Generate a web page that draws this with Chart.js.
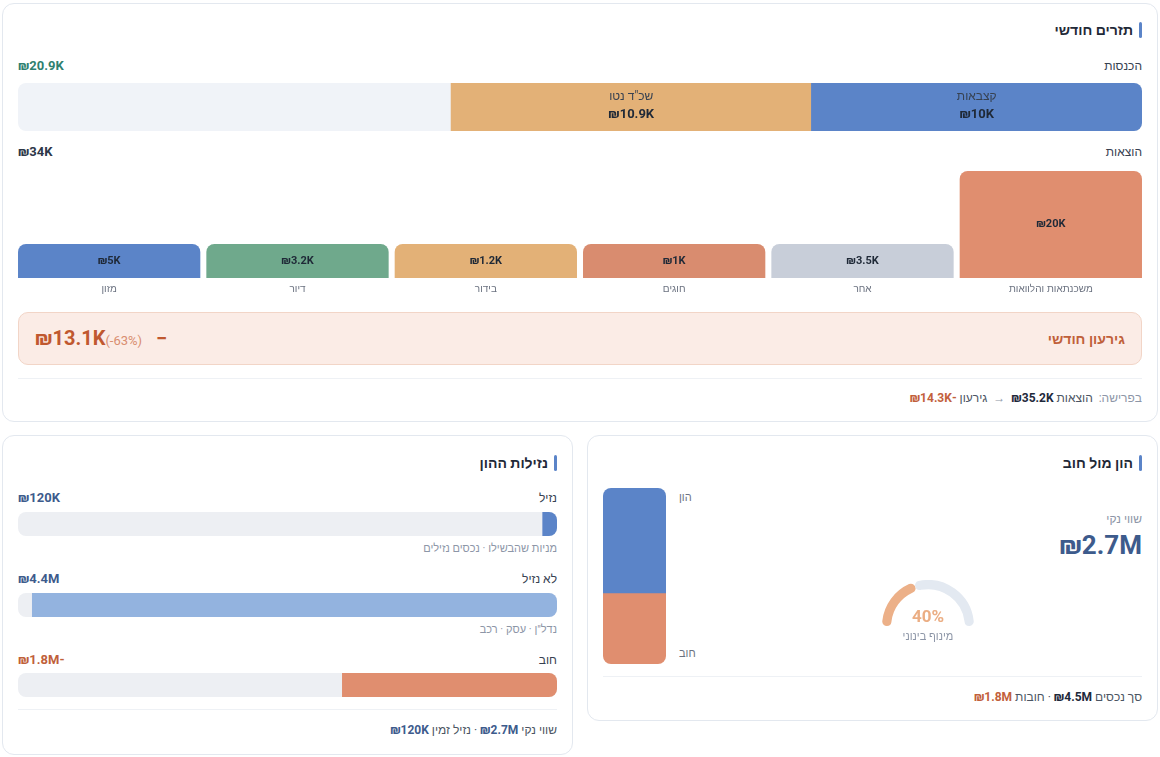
<!DOCTYPE html>
<html lang="he" dir="rtl">
<head>
<meta charset="utf-8">
<script src="https://cdn.jsdelivr.net/npm/chart.js@4.4.1/dist/chart.umd.min.js"></script>
<style>
  body { margin:0; background:#fff; font-family: Roboto, 'Liberation Sans', sans-serif; color:#1f2937; width:1160px; height:757px; position:relative; overflow:hidden; }
  .card { position:absolute; box-sizing:border-box; background:#fff; border:1px solid #e3e8ef; border-radius:12px; }
  .abs { position:absolute; }
  .title { right:15px; font-size:14px; font-weight:700; line-height:18px; padding-right:9px; color:#1f2937; }
  .title:before { content:''; position:absolute; right:0; top:1px; width:3px; height:16px; border-radius:2px; background:#5b84c8; }
  .row { left:15px; right:15px; display:flex; justify-content:space-between; line-height:16px; font-size:12px; }
  .row .lbl { color:#374151; font-weight:500; }
  .row .val { font-weight:700; font-size:13px; }
  .sub { right:15px; font-size:11px; line-height:14px; color:#8d96a7; }
  .divider { left:15px; right:15px; height:1px; background:#eef1f5; }
  .foot { right:15px; font-size:12px; line-height:16px; color:#4b5563; }
  .foot b { color:#1e293b; }
  .foot .neg { color:#c2603b; }
  .foot .mute { color:#8d96a7; }
  .deficit { left:15px; right:15px; height:53px; box-sizing:border-box; background:#fbece6; border:1px solid #f2d5c7; border-radius:10px; }
  .deficit .dt { position:absolute; right:16px; top:17px; font-size:14px; font-weight:700; color:#c0603a; line-height:18px; }
  .deficit .dv { position:absolute; left:16px; top:13px; line-height:24px; color:#c0582f; }
  .deficit .dv b { font-size:20px; }
  .deficit .dv small { font-size:13px; color:#d98e70; }
  .deficit .dv .minus { margin-left:14px; }
  canvas.track { border-radius:8px; }
</style>
</head>
<body>

<!-- תזרים חודשי -->
<div class="card" style="left:2px; top:3px; width:1156px; height:419px;">
  <div class="abs title" style="top:17px;">תזרים חודשי</div>

  <div class="abs row" style="top:54px;"><span class="lbl">הכנסות</span><span class="val" style="color:#2f7f6f;">₪20.9K</span></div>
  <canvas id="income" class="abs track" width="1124" height="48" style="left:15px; top:79px; background:#f0f3f8;"></canvas>

  <div class="abs row" style="top:140px;"><span class="lbl">הוצאות</span><span class="val" style="color:#2d3748;">₪34K</span></div>
  <canvas id="expenses" class="abs" width="1130" height="132" style="left:12px; top:164px;"></canvas>

  <div class="abs deficit" style="top:308px;">
    <div class="dt">גירעון חודשי</div>
    <div class="dv" dir="ltr"><b>₪13.1K</b><small>(-63%)</small><b class="minus">−</b></div>
  </div>
  <div class="abs divider" style="top:374px;"></div>
  <div class="abs foot" style="top:386px;"><span class="mute">בפרישה:</span>&nbsp; הוצאות <b>₪35.2K</b> <span class="mute">&nbsp;→&nbsp;</span> גירעון <b class="neg">-₪14.3K</b></div>
</div>

<!-- נזילות ההון -->
<div class="card" style="left:2px; top:435px; width:571px; height:320px;">
  <div class="abs title" style="top:18px;">נזילות ההון</div>

  <div class="abs row" style="top:54px;"><span class="lbl">נזיל</span><span class="val" style="color:#3d5b8c;">₪120K</span></div>
  <canvas id="liq0" class="abs track" width="539" height="24" style="left:15px; top:76px; background:#edeff3;"></canvas>
  <div class="abs sub" style="top:106px;">מניות שהבשילו · נכסים נזילים</div>

  <div class="abs row" style="top:135px;"><span class="lbl">לא נזיל</span><span class="val" style="color:#3d5b8c;">₪4.4M</span></div>
  <canvas id="liq1" class="abs track" width="539" height="24" style="left:15px; top:157px; background:#edeff3;"></canvas>
  <div class="abs sub" style="top:187px;">נדל"ן · עסק · רכב</div>

  <div class="abs row" style="top:216px;"><span class="lbl">חוב</span><span class="val" style="color:#c0603a;">-₪1.8M</span></div>
  <canvas id="liq2" class="abs track" width="539" height="24" style="left:15px; top:237px; background:#edeff3;"></canvas>

  <div class="abs divider" style="top:273px;"></div>
  <div class="abs foot" style="top:286px;">שווי נקי <b style="color:#3d5b8c;">₪2.7M</b> · נזיל זמין <b style="color:#3d5b8c;">₪120K</b></div>
</div>

<!-- הון מול חוב -->
<div class="card" style="left:587px; top:435px; width:571px; height:286px;">
  <div class="abs title" style="top:18px;">הון מול חוב</div>

  <canvas id="equity" class="abs track" width="63" height="176" style="left:15px; top:52px;"></canvas>
  <div class="abs" style="left:91px; top:55px; font-size:11px; color:#6b7280;">הון</div>
  <div class="abs" style="left:91px; top:211px; font-size:11px; color:#6b7280;">חוב</div>

  <div class="abs" style="right:15px; top:76px; font-size:12px; color:#8d96a7;">שווי נקי</div>
  <div class="abs" style="right:15px; top:93px; font-size:26px; font-weight:700; color:#3d5b8c; line-height:32px;">₪2.7M</div>

  <canvas id="gauge" class="abs" width="92" height="50" style="left:294px; top:144px;"></canvas>
  <div class="abs" style="left:290px; width:100px; top:169px; text-align:center; font-size:17px; font-weight:700; color:#ebae84; line-height:22px;">40%</div>
  <div class="abs" style="left:280px; width:120px; top:194px; text-align:center; font-size:11px; color:#8d96a7;">מינוף בינוני</div>

  <div class="abs divider" style="top:240px;"></div>
  <div class="abs foot" style="top:253px;">סך נכסים <b>₪4.5M</b> · חובות <b class="neg">₪1.8M</b></div>
</div>

<script>
// הכנסות (אלפי ₪)
const incomeLabels = ['קצבאות', 'שכ"ד נטו'];
const incomeValues = [10, 10.9];
const incomeColors = ['#5b84c8', '#e3b177'];

// הוצאות (אלפי ₪)
const expenseLabels = ['משכנתאות והלוואות', 'אחר', 'חוגים', 'בידור', 'דיור', 'מזון'];
const expenseValues = [20, 3.5, 1, 1.2, 3.2, 5];
const expenseColors = ['#e08e6f', '#c8ced9', '#d98c6f', '#e3b177', '#6fa98c', '#5b84c8'];
const expenseTotal = 34;

// נזילות (מיליוני ₪)
const liquidityLabels = ['נזיל', 'לא נזיל', 'חוב'];
const liquidityValues = [0.12, 4.4, 1.8];
const liquidityColors = ['#5b84c8', '#93b3df', '#e08e6f'];

// הון מול חוב (מיליוני ₪)
const equityValue = 2.7;
const debtValue = 1.8;
const leveragePct = 40;

const fmtK = v => '₪' + v + 'K';

// טקסט בתוך העמודות
const barText = {
    id: 'barText',
    afterDatasetsDraw(chart, args, opts) {
        const ctx = chart.ctx;
        chart.data.datasets.forEach((ds, i) => {
            chart.getDatasetMeta(i).data.forEach((bar, j) => {
                const p = bar.getCenterPoint();
                ctx.save();
                ctx.textAlign = 'center';
                ctx.textBaseline = 'middle';
                ctx.fillStyle = '#1f2937';
                if (opts.withLabel) {
                    ctx.font = '12px Roboto, "Liberation Sans", sans-serif';
                    ctx.fillStyle = '#374151';
                    ctx.fillText(ds.label, p.x, p.y - 10);
                    ctx.font = 'bold 13px Roboto, "Liberation Sans", sans-serif';
                    ctx.fillStyle = '#1f2937';
                    ctx.fillText(fmtK(ds.data[j]), p.x, p.y + 8);
                } else {
                    ctx.font = 'bold 11px Roboto, "Liberation Sans", sans-serif';
                    ctx.fillText(fmtK(ds.data[j]), p.x, p.y);
                }
                ctx.restore();
            });
        });
    }
};

// גרף הכנסות
const incomeChart = new Chart(document.getElementById('income'), {
    type: 'bar',
    data: {
        labels: [''],
        datasets: incomeLabels.map((l, i) => ({
            label: l,
            data: [incomeValues[i]],
            backgroundColor: incomeColors[i],
            borderWidth: 0,
        }))
    },
    options: {
        indexAxis: 'y',
        responsive: false,
        animation: false,
        barPercentage: 1,
        categoryPercentage: 1,
        layout: { padding: 0 },
        plugins: { legend: { display: false }, tooltip: { enabled: false }, barText: { withLabel: true } },
        scales: {
            x: { display: false, stacked: true, min: 0, max: expenseTotal, reverse: true },
            y: { display: false, stacked: true }
        }
    },
    plugins: [barText]
});

// גרף הוצאות
const expenseChart = new Chart(document.getElementById('expenses'), {
    type: 'bar',
    data: {
        labels: expenseLabels,
        datasets: [{
            data: expenseValues,
            backgroundColor: expenseColors,
            borderWidth: 0,
            borderRadius: { topLeft: 8, topRight: 8, bottomLeft: 0, bottomRight: 0 },
            borderSkipped: false,
            minBarLength: 34,
            barPercentage: 0.968,
            categoryPercentage: 1,
        }]
    },
    options: {
        responsive: false,
        animation: false,
        layout: { padding: { top: 3 } },
        plugins: { legend: { display: false }, tooltip: { enabled: false }, barText: { withLabel: false } },
        scales: {
            x: {
                reverse: true,
                grid: { display: false, drawTicks: false },
                border: { display: false },
                ticks: { color: '#6b7280', padding: 5, font: { size: 10 } }
            },
            y: { display: false, min: 0, max: Math.max(...expenseValues) }
        }
    },
    plugins: [barText]
});

// נזילות ההון
const totalAssets = liquidityValues[0] + liquidityValues[1];
liquidityValues.forEach((v, i) => {
    new Chart(document.getElementById('liq' + i), {
        type: 'bar',
        data: {
            labels: [liquidityLabels[i]],
            datasets: [{ data: [v], backgroundColor: liquidityColors[i], borderWidth: 0 }]
        },
        options: {
            indexAxis: 'y',
            responsive: false,
            animation: false,
            barPercentage: 1,
            categoryPercentage: 1,
            plugins: { legend: { display: false }, tooltip: { enabled: false } },
            scales: {
                x: { display: false, min: 0, max: totalAssets, reverse: true },
                y: { display: false }
            }
        }
    });
});

// הון מול חוב
const equityChart = new Chart(document.getElementById('equity'), {
    type: 'bar',
    data: {
        labels: [''],
        datasets: [
            { label: 'חוב', data: [debtValue], backgroundColor: '#e08e6f', borderWidth: 0 },
            { label: 'הון', data: [equityValue], backgroundColor: '#5b84c8', borderWidth: 0 }
        ]
    },
    options: {
        responsive: false,
        animation: false,
        barPercentage: 1,
        categoryPercentage: 1,
        plugins: { legend: { display: false }, tooltip: { enabled: false } },
        scales: {
            x: { display: false, stacked: true },
            y: { display: false, stacked: true, min: 0, max: equityValue + debtValue }
        }
    }
});

// מד מינוף
const gaugeChart = new Chart(document.getElementById('gauge'), {
    type: 'doughnut',
    data: {
        datasets: [{
            data: [leveragePct, 100 - leveragePct],
            backgroundColor: ['#ecb088', '#e3e9f1'],
            borderWidth: 0,
            borderRadius: 5,
        }]
    },
    options: {
        responsive: false,
        animation: false,
        rotation: -90,
        circumference: 180,
        cutout: '80%',
        layout: { padding: { bottom: 4 } },
        plugins: { legend: { display: false }, tooltip: { enabled: false } }
    }
});
</script>
</body>
</html>
